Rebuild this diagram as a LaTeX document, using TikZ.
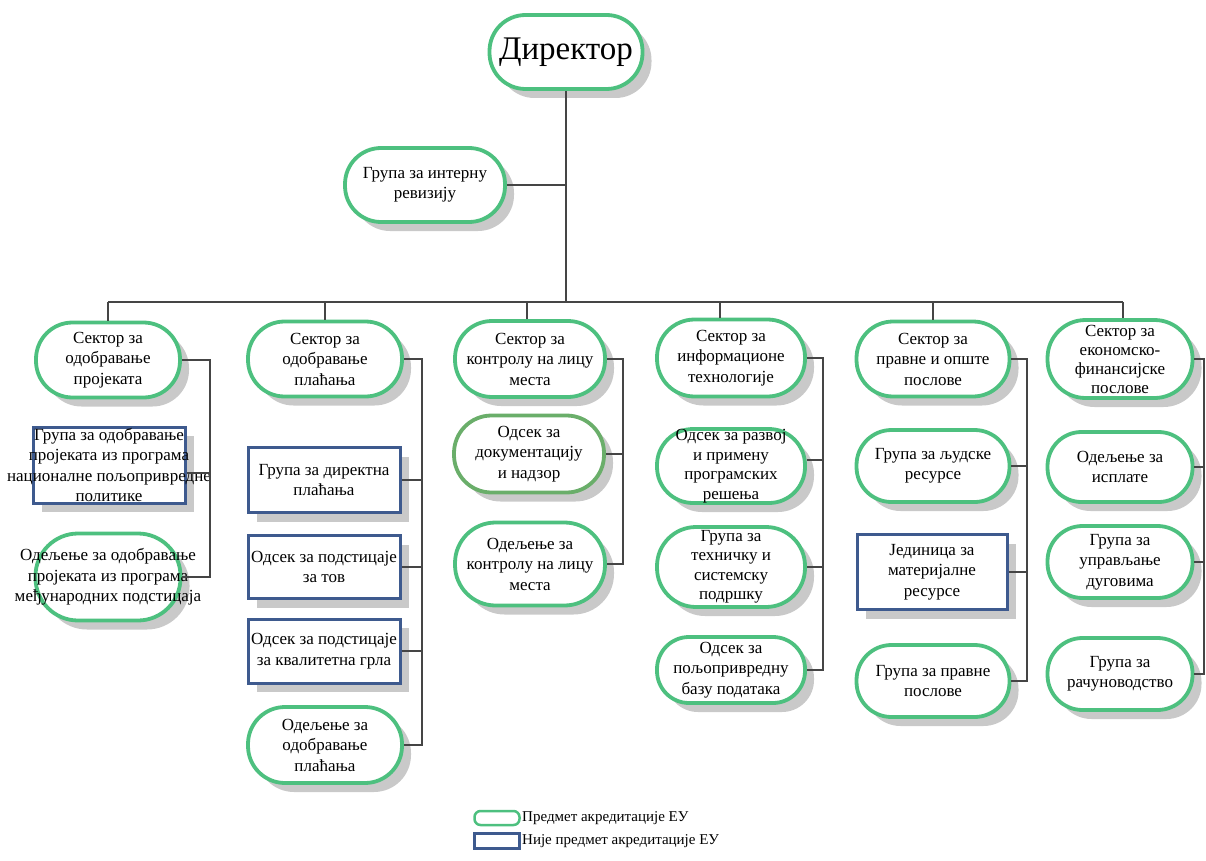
\documentclass[tikz,border=0pt]{standalone}
\usepackage{fontspec}
\setmainfont{Liberation Serif}
\usetikzlibrary{shadows}
\definecolor{eugreen}{HTML}{4DC07F}
\definecolor{eugreendk}{HTML}{6AAE6A}
\definecolor{noteu}{HTML}{3E5A8E}
\definecolor{conn}{HTML}{454545}
\definecolor{shdgray}{HTML}{C9C9C9}
\newcommand\boxfont{\fontsize{17}{20.5}\selectfont}
\begin{document}
\begin{tikzpicture}[x=1pt,y=-1pt,
  shd/.style={general shadow={fill=shdgray, shadow xshift=9pt, shadow yshift=-9pt}},
  evb/.style 2 args={draw=eugreen, line width=3.8pt, fill=white, minimum width=#1pt, minimum height=#2pt, rounded corners={(#2/2-1)*1pt}, inner sep=0pt},
  ev/.style 2 args={shd, evb={#1}{#2}},
  nbb/.style 2 args={draw=noteu, line width=3pt, fill=white, minimum width=#1pt, minimum height=#2pt, inner sep=0pt},
  nb/.style 2 args={shd, nbb={#1}{#2}},
  txt/.style={align=center, inner sep=0pt, font=\boxfont},
  ln/.style={draw=conn, line width=1.5pt}
]
\useasboundingbox (0,0) rectangle (1206,861);

% Director and audit
\node[ev={153}{74}] (dir) at (566,52) {};
\node[txt, font=\fontsize{33}{38}\selectfont] (dirt) at (dir.center) {Директор};
\node[ev={160}{74}] (aud) at (425,185) {};
\node[txt] (audt) at (aud.center) {Група за интерну\\ревизију};

% Sectors
\node[ev={144}{75}] (s1) at (108,360) {};
\node[txt] (s1t) at (s1.center) {Сектор за\\одобравање\\пројеката};
\node[ev={154}{75}] (s2) at (325,359) {};
\node[txt] (s2t) at (s2.center) {Сектор за\\одобравање\\плаћања};
\node[ev={150}{76}] (s3) at (530,359) {};
\node[txt] (s3t) at (s3.center) {Сектор за\\контролу на лицу\\места};
\node[ev={148}{77}] (s4) at (731,358) {};
\node[txt] (s4t) at (s4.center) {Сектор за\\информационе\\технологије};
\node[ev={145}{78}] (s6) at (1120,359) {};
\node[ev={153}{75}] (s5) at (933,359) {};
\node[txt] (s5t) at (s5.center) {Сектор за\\правне и опште\\послове};
\node[txt, font=\fontsize{17}{19}\selectfont] (s6t) at (s6.center) {Сектор за\\економско-\\финансијске\\послове};

% Column 1
\node[nb={152}{76}] (c11) at (109,465) {};
\node[txt] (c11t) at (c11.center) {Група за одобравање\\пројеката из програма\\националне пољопривредне\\политике};
\node[ev={145}{87}] (c12) at (108,577) {};
\node[txt] (c12t) at (c12.center) {Одељење за одобравање\\пројеката из програма\\међународних подстицаја};

% Column 2
\node[nb={152}{65}] (c21) at (324,480) {};
\node[txt] (c21t) at (c21.center) {Група за директна\\плаћања};
\node[nb={152}{63}] (c22) at (324,567) {};
\node[txt] (c22t) at (c22.center) {Одсек за подстицаје\\за тов};
\node[nb={152}{64}] (c23) at (324,651) {};
\node[txt] (c23t) at (c23.center) {Одсек за подстицаје\\за квалитетна грла};
\node[ev={154}{76}] (c24) at (325,745) {};
\node[txt] (c24t) at (c24.center) {Одељење за\\одобравање\\плаћања};

% Column 3
\node[ev={150}{77}, draw=eugreendk] (c31) at (529,454) {};
\node[txt] (c31t) at (c31.center) {Одсек за\\документацију\\и надзор};
\node[ev={150}{83}] (c32) at (530,564) {};
\node[txt] (c32t) at (c32.center) {Одељење за\\контролу на лицу\\места};

% Column 4
\node[ev={148}{74}] (c41) at (731,466) {};
\node[txt, font=\fontsize{17}{19.5}\selectfont] (c41t) at (c41.center) {Одсек за развој\\и примену\\програмских\\решења};
\node[ev={148}{80}] (c42) at (731,567) {};
\node[txt, font=\fontsize{17}{19.5}\selectfont] (c42t) at (c42.center) {Група за\\техничку и\\системску\\подршку};
\node[ev={148}{66}] (c43) at (731,670) {};
\node[txt] (c43t) at (c43.center) {Одсек за\\пољопривредну\\базу података};

% Column 5
\node[ev={153}{72}] (c51) at (933,466) {};
\node[txt] (c51t) at (c51.center) {Група за људске\\ресурсе};
\node[nb={150}{75}] (c52) at (932,572) {};
\node[txt] (c52t) at (c52.center) {Јединица за\\материјалне\\ресурсе};
\node[ev={153}{72}] (c53) at (933,681) {};
\node[txt] (c53t) at (c53.center) {Група за правне\\послове};

% Column 6
\node[ev={145}{70}] (c61) at (1120,467) {};
\node[txt] (c61t) at (c61.center) {Одељење за\\исплате};
\node[ev={145}{72}] (c62) at (1120,562) {};
\node[txt] (c62t) at (c62.center) {Група за\\управљање\\дуговима};
\node[ev={145}{72}] (c63) at (1120,674) {};
\node[txt] (c63t) at (c63.center) {Група за\\рачуноводство};

% Bus coordinates
\coordinate (b1) at (108,302);
\coordinate (b2) at (325,302);
\coordinate (b3) at (527,302);
\coordinate (b4) at (720,302);
\coordinate (b5) at (933,302);
\coordinate (b6) at (1123,302);
\coordinate (bd) at (566,302);
\coordinate (v1) at (210,0);
\coordinate (v2) at (422,0);
\coordinate (v3) at (623,0);
\coordinate (v4) at (823,0);
\coordinate (v5) at (1027,0);
\coordinate (v6) at (1204,0);

% Connectors
\draw[ln] (dir.south) -- (bd);
\draw[ln] (aud.east) -- (aud.east -| bd);
\draw[ln, line width=2pt] (b1) -- (b6);
\draw[ln] (b1) -- (b1 |- s1.north);
\draw[ln] (b2) -- (b2 |- s2.north);
\draw[ln] (b3) -- (b3 |- s3.north);
\draw[ln] (b4) -- (b4 |- s4.north);
\draw[ln] (b5) -- (b5 |- s5.north);
\draw[ln] (b6) -- (b6 |- s6.north);

\draw[ln] (s1.east) -- (s1.east -| v1) -- (c12.east -| v1) -- (c12.east);
\draw[ln] ([yshift=-8pt]c11.east) -- ([yshift=-8pt]c11.east -| v1);

\draw[ln] (s2.east) -- (s2.east -| v2) -- (c24.east -| v2) -- (c24.east);
\draw[ln] (c21.east) -- (c21.east -| v2);
\draw[ln] (c22.east) -- (c22.east -| v2);
\draw[ln] (c23.east) -- (c23.east -| v2);

\draw[ln] (s3.east) -- (s3.east -| v3) -- (c32.east -| v3) -- (c32.east);
\draw[ln] (c31.east) -- (c31.east -| v3);

\draw[ln] (s4.east) -- (s4.east -| v4) -- (c43.east -| v4) -- (c43.east);
\draw[ln] ([yshift=6pt]c41.east) -- ([yshift=6pt]c41.east -| v4);
\draw[ln] (c42.east) -- (c42.east -| v4);

\draw[ln] (s5.east) -- (s5.east -| v5) -- (c53.east -| v5) -- (c53.east);
\draw[ln] (c51.east) -- (c51.east -| v5);
\draw[ln] (c52.east) -- (c52.east -| v5);

\draw[ln] (s6.east) -- (s6.east -| v6) -- (c63.east -| v6) -- (c63.east);
\draw[ln] (c61.east) -- (c61.east -| v6);
\draw[ln] (c62.east) -- (c62.east -| v6);

% Legend
\node[evb={45}{14}, line width=2.5pt] (lg1) at (497,818) {};
\node[txt, anchor=west, font=\fontsize{15}{17}\selectfont] (lg1t) at (522,818) {Предмет акредитације ЕУ};
\node[nbb={45}{15}, line width=2.5pt] (lg2) at (497,841) {};
\node[txt, anchor=west, font=\fontsize{15}{17}\selectfont] (lg2t) at (522,841) {Није предмет акредитације ЕУ};
\end{tikzpicture}
\end{document}
